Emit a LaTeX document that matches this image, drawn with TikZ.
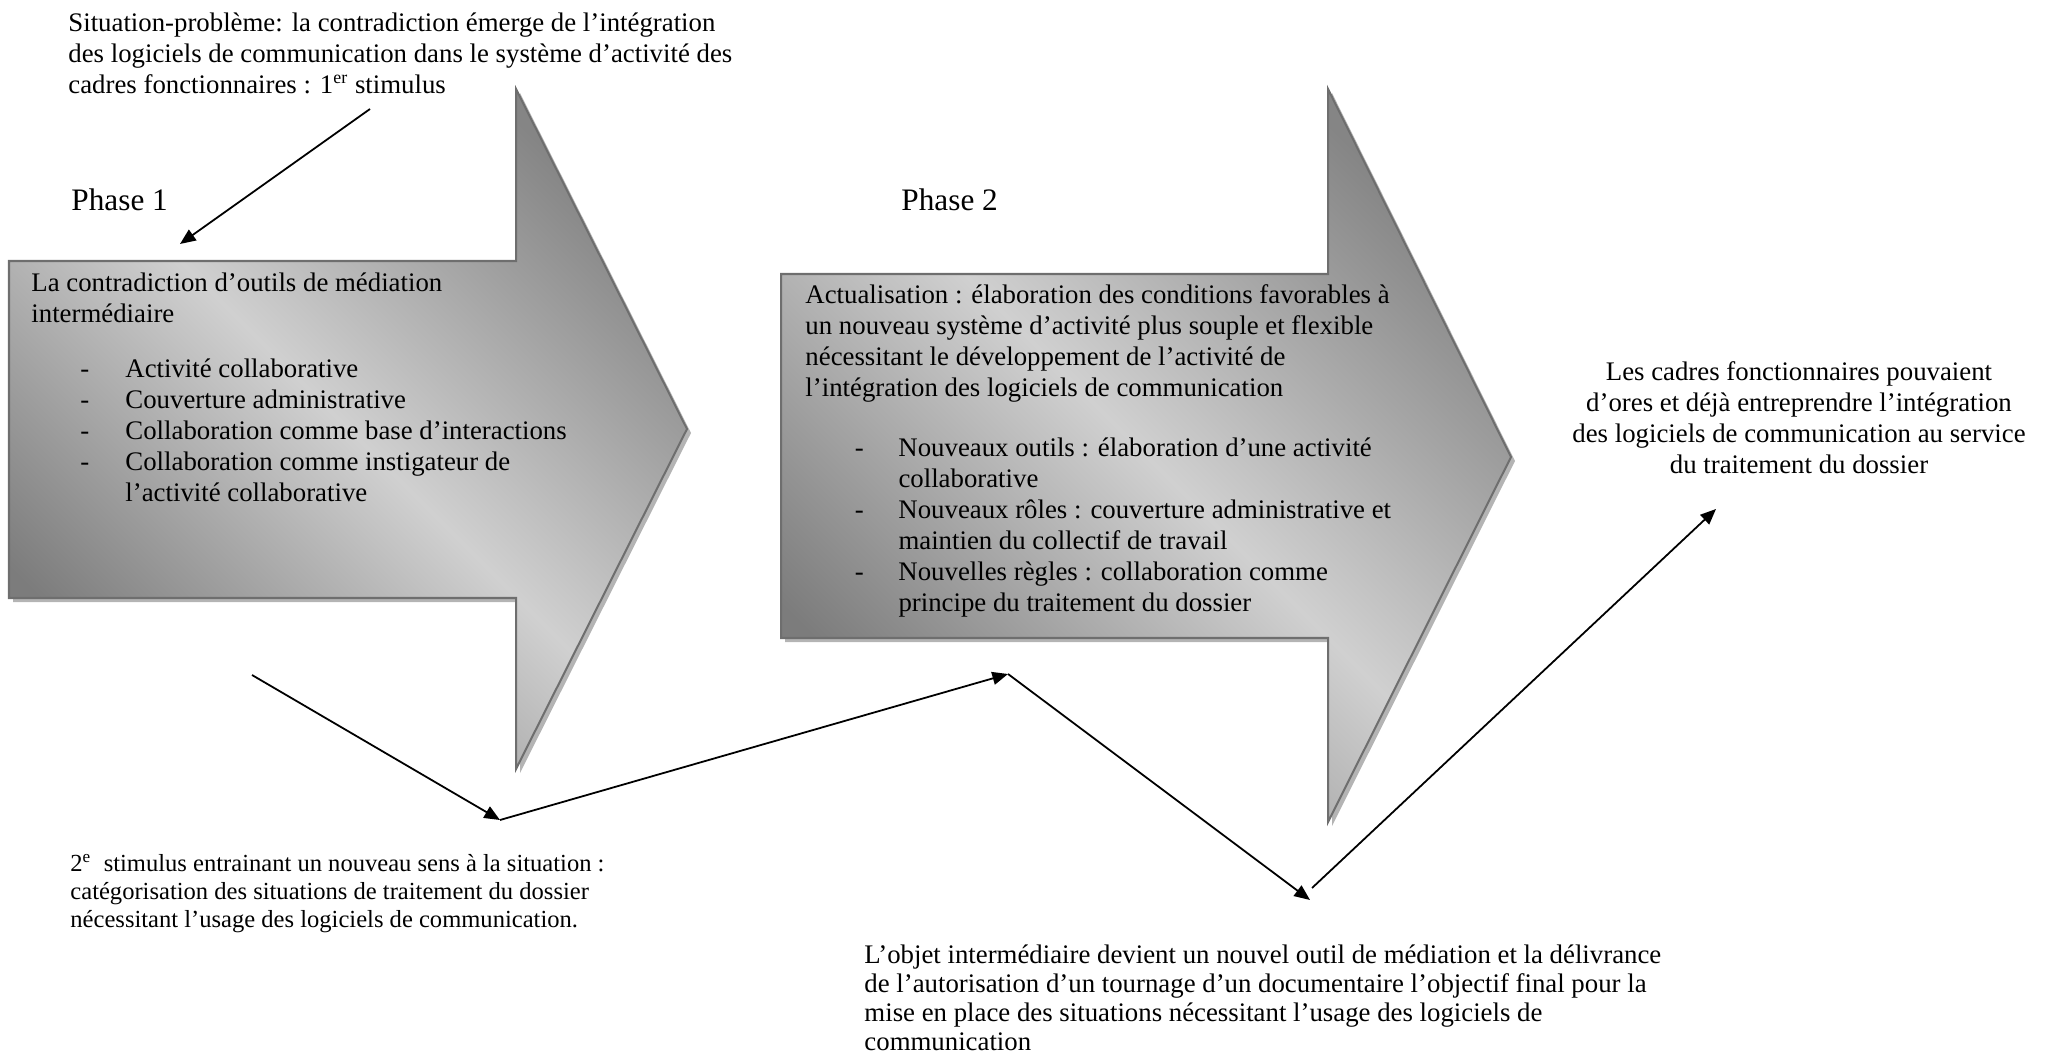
\documentclass[tikz,border=0pt]{standalone}
\usepackage{fontspec}
\setmainfont{Liberation Serif}
\usetikzlibrary{arrows.meta}
\definecolor{arrowedge}{HTML}{6E6E6E}
\definecolor{shadowgray}{HTML}{B4B4B4}
\definecolor{darkA}{HTML}{7C7C7C}
\definecolor{darkB}{HTML}{858585}
\definecolor{lightC}{HTML}{D0D0D0}
\newcommand{\txtblock}[2]{\parbox[t]{#1}{\raggedright #2}}
\newcommand{\dashA}{\makebox[20.15pt][l]{-}}
\newcommand{\contA}{\hspace*{20.15pt}}
\newcommand{\dashB}{\makebox[19.5pt][l]{-}}
\newcommand{\contB}{\hspace*{19.5pt}}
\begin{document}
\begin{tikzpicture}[x=0.4478pt,y=-0.4478pt,
  bigarrow/.style={draw=arrowedge, line width=0.9pt, line join=miter,
    top color=darkB, bottom color=darkA, middle color=lightC, shading angle=-45},
  arrowshadow/.style={fill=shadowgray},
  conn/.style={black, line width=0.8pt, -{Triangle[length=7pt,width=5.8pt]}},
  txt/.style={inner sep=0pt, anchor=base west, font=\fontsize{12}{13.8}\selectfont},
  smalltxt/.style={inner sep=0pt, anchor=base west, font=\fontsize{11}{12.7}\selectfont},
  objtxt/.style={inner sep=0pt, anchor=base west, font=\fontsize{12}{13}\selectfont},
  phase/.style={inner sep=0pt, anchor=base west, font=\fontsize{14}{16}\selectfont}]
\useasboundingbox (0,0) rectangle (2049,1055);
% shadows
\fill[arrowshadow, shift={(4,4)}] (9,261) -- (516,261) -- (516,89) -- (687,429) -- (516,769) -- (516,598) -- (9,598) -- cycle;
\fill[arrowshadow, shift={(4,4)}] (781,274) -- (1328,274) -- (1328,89) -- (1511,457) -- (1328,822) -- (1328,638) -- (781,638) -- cycle;
% arrows
\draw[bigarrow] (9,261) -- (516,261) -- (516,89) -- (687,429) -- (516,769) -- (516,598) -- (9,598) -- cycle;
\draw[bigarrow] (781,274) -- (1328,274) -- (1328,89) -- (1511,457) -- (1328,822) -- (1328,638) -- (781,638) -- cycle;
% texts
\node[txt] (top) at (68,32) {\txtblock{400pt}{Situation-problème: la contradiction émerge de l’intégration\\
des logiciels de communication dans le système d’activité des\\
cadres fonctionnaires : 1\textsuperscript{er} stimulus}};
\node[phase] (ph1) at (71,211) {Phase 1};
\node[phase] (ph2) at (901,211) {Phase 2};
\node[txt] (h1) at (31,292) {\txtblock{300pt}{La contradiction d’outils de médiation\\intermédiaire}};
\node[txt] (l1) at (80,378) {\txtblock{300pt}{\dashA Activité collaborative\\
\dashA Couverture administrative\\
\dashA Collaboration comme base d’interactions\\
\dashA Collaboration comme instigateur de\\
\contA l’activité collaborative}};
\node[txt] (h2) at (805,304) {\txtblock{320pt}{Actualisation : élaboration des conditions favorables à\\
un nouveau système d’activité plus souple et flexible\\
nécessitant le développement de l’activité de\\
l’intégration des logiciels de communication}};
\node[txt] (l2) at (854.5,457) {\txtblock{320pt}{\dashB Nouveaux outils : élaboration d’une activité\\
\contB collaborative\\
\dashB Nouveaux rôles : couverture administrative et\\
\contB maintien du collectif de travail\\
\dashB Nouvelles règles : collaboration comme\\
\contB principe du traitement du dossier}};
\node[inner sep=0pt, anchor=base, font=\fontsize{12}{13.8}\selectfont] (res) at (1799,381) {\parbox[t]{230pt}{\centering Les cadres fonctionnaires pouvaient\\
d’ores et déjà entreprendre l’intégration\\
des logiciels de communication au service\\
du traitement du dossier}};
\node[smalltxt] (st2) at (70,871) {\txtblock{320pt}{2\textsuperscript{e}\ \ stimulus entrainant un nouveau sens à la situation :\\
catégorisation des situations de traitement du dossier\\
nécessitant l’usage des logiciels de communication.}};
\node[objtxt] (obj) at (864,963) {\txtblock{420pt}{L’objet intermédiaire devient un nouvel outil de médiation et la délivrance\\
de l’autorisation d’un tournage d’un documentaire l’objectif final pour la\\
mise en place des situations nécessitant l’usage des logiciels de\\
communication}};
% connectors
\coordinate (s0) at (370,109);
\coordinate (e0) at (180,244);
\coordinate (p1) at (252,675);
\coordinate (p2) at (500,820);
\coordinate (p3) at (1008,674);
\coordinate (p4) at (1310,900);
\coordinate (p4a) at (1312,888);
\coordinate (p5) at (1716,509);
\draw[conn] (s0) -- (e0);
\draw[conn] (p1) -- (p2);
\draw[conn] (p2) -- (p3);
\draw[conn] (p3) -- (p4);
\draw[conn] (p4a) -- (p5);
\end{tikzpicture}
\end{document}
